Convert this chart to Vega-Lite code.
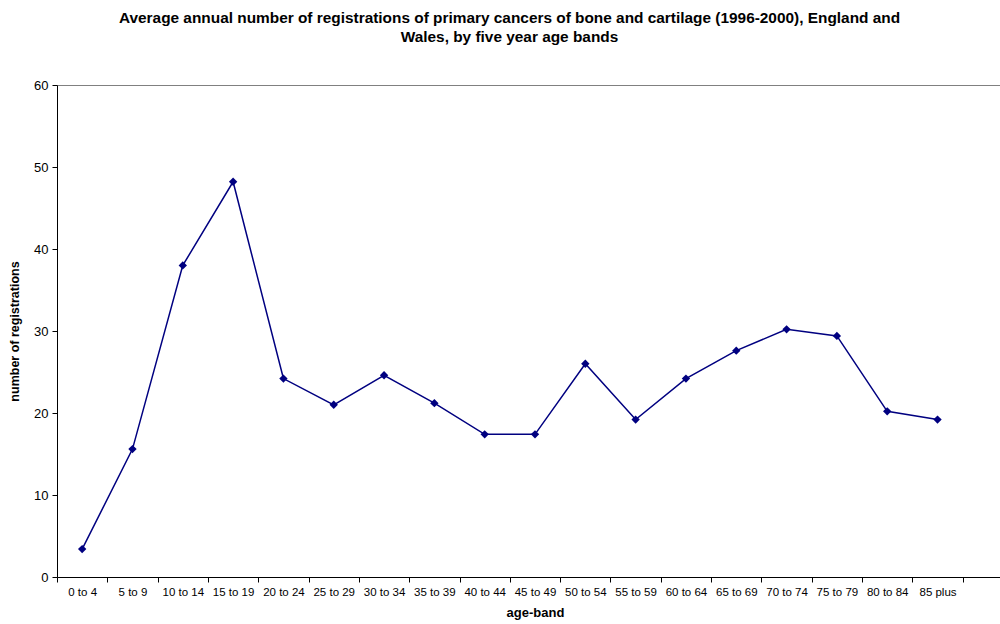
{
  "$schema": "https://vega.github.io/schema/vega-lite/v6.json",
  "width": 943,
  "height": 492,
  "autosize": {"type": "none"},
  "padding": {"left": 57, "top": 85, "right": 0, "bottom": 47},
  "background": "white",
  "config": {
    "view": {"stroke": null},
    "font": "Liberation Sans"
  },
  "title": {
    "text": [
      "Average annual number of registrations of primary cancers of bone and cartilage (1996-2000), England and",
      "Wales, by five year age bands"
    ],
    "font": "Liberation Sans",
    "fontSize": 15.4,
    "fontWeight": "bold",
    "color": "black",
    "anchor": "middle",
    "frame": "group",
    "dx": -19,
    "offset": 34,
    "lineHeight": 19
  },
  "data": {
    "values": [
      {"age": "0 to 4", "n": 3.4},
      {"age": "5 to 9", "n": 15.6},
      {"age": "10 to 14", "n": 38.0},
      {"age": "15 to 19", "n": 48.2},
      {"age": "20 to 24", "n": 24.2},
      {"age": "25 to 29", "n": 21.0},
      {"age": "30 to 34", "n": 24.6},
      {"age": "35 to 39", "n": 21.2},
      {"age": "40 to 44", "n": 17.4},
      {"age": "45 to 49", "n": 17.4},
      {"age": "50 to 54", "n": 26.0},
      {"age": "55 to 59", "n": 19.2},
      {"age": "60 to 64", "n": 24.2},
      {"age": "65 to 69", "n": 27.6},
      {"age": "70 to 74", "n": 30.2},
      {"age": "75 to 79", "n": 29.4},
      {"age": "80 to 84", "n": 20.2},
      {"age": "85 plus", "n": 19.2}
    ]
  },
  "encoding": {
    "x": {
      "field": "age",
      "type": "nominal",
      "sort": null,
      "scale": {
        "domain": ["0 to 4", "5 to 9", "10 to 14", "15 to 19", "20 to 24", "25 to 29", "30 to 34", "35 to 39", "40 to 44", "45 to 49", "50 to 54", "55 to 59", "60 to 64", "65 to 69", "70 to 74", "75 to 79", "80 to 84", "85 plus", " "],
        "range": [0, 956],
        "paddingInner": 0,
        "paddingOuter": 0
      },
      "axis": {
        "title": "age-band",
        "titleFont": "Liberation Sans",
        "titleFontSize": 13,
        "titleFontWeight": "bold",
        "titleColor": "black",
        "titlePadding": 9,
        "labelAngle": 0,
        "labelFont": "Liberation Sans",
        "labelFontSize": 11.5,
        "labelColor": "black",
        "labelPadding": 4,
        "tickBand": "extent",
        "tickSize": 5,
        "tickColor": "black",
        "domainColor": "black",
        "grid": false
      }
    },
    "y": {
      "field": "n",
      "type": "quantitative",
      "scale": {"domain": [0, 60], "nice": false},
      "axis": {
        "title": "number of registrations",
        "titleFont": "Liberation Sans",
        "titleFontSize": 12.5,
        "titleFontWeight": "bold",
        "titleColor": "black",
        "titlePadding": 12,
        "values": [0, 10, 20, 30, 40, 50, 60],
        "labelFont": "Liberation Sans",
        "labelFontSize": 13,
        "labelColor": "black",
        "labelPadding": 4,
        "tickSize": 5,
        "tickColor": "black",
        "domainColor": "black",
        "grid": true,
        "gridColor": {"condition": {"test": "datum.value == 60", "value": "#808080"}, "value": null}
      }
    }
  },
  "layer": [
    {"mark": {"type": "line", "color": "#000080", "strokeWidth": 1.5}},
    {"mark": {"type": "point", "shape": "diamond", "filled": true, "size": 70, "color": "#000080", "opacity": 1}}
  ]
}
